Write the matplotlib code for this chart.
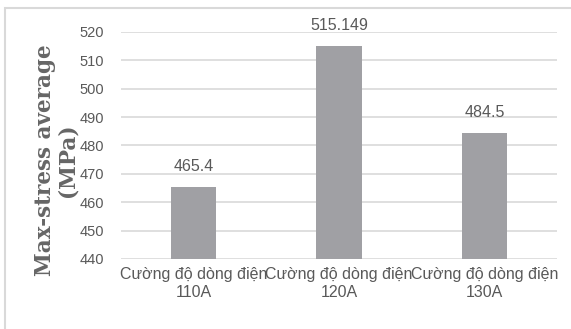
import matplotlib
matplotlib.use("Agg")
import matplotlib.pyplot as plt
from matplotlib.patches import Rectangle

categories = ["Cường độ dòng điện\n110A", "Cường độ dòng điện\n120A", "Cường độ dòng điện\n130A"]
values = [465.4, 515.149, 484.5]
value_labels = ["465.4", "515.149", "484.5"]
y_ticks = [440, 450, 460, 470, 480, 490, 500, 510, 520]

text_color = "#595959"
bar_color = "#a0a0a4"
grid_color = "#d9d9d9"
sans = ["Liberation Sans", "DejaVu Sans"]

fig = plt.figure(figsize=(5.71, 3.29), dpi=100)
fig.patch.set_facecolor("white")

# outer chart frame
fig.add_artist(Rectangle((5 / 571, -0.05), 1.1, 1 - 8 / 329 + 0.05,
                         transform=fig.transFigure, fill=False,
                         edgecolor="#d9d9d9", linewidth=1.5))

ax = fig.add_axes([121 / 571, 1 - 259 / 329, (557 - 121) / 571, (259 - 32) / 329])
x = list(range(len(categories)))
ax.bar(x, [v - y_ticks[0] for v in values], bottom=y_ticks[0], width=0.31,
       color=bar_color, zorder=3)

ax.set_xlim(-0.5, len(categories) - 0.5)
ax.set_ylim(y_ticks[0], y_ticks[-1])
ax.set_yticks(y_ticks)
ax.set_yticklabels([str(t) for t in y_ticks], family=sans, fontsize=10.5, color=text_color)
ax.set_xticks(x)
ax.set_xticklabels(categories, family=sans, fontsize=11.5, color=text_color, linespacing=1.2)
ax.tick_params(axis="y", length=0, pad=12)
ax.tick_params(axis="x", length=0, pad=6)
ax.grid(axis="y", color=grid_color, linewidth=1.2, zorder=0)
for s in ax.spines.values():
    s.set_visible(False)

for xi, v, lbl in zip(x, values, value_labels):
    ax.annotate(lbl, (xi, v), xytext=(0, 9), textcoords="offset points",
                ha="center", va="bottom", family=sans, fontsize=11.5, color=text_color)

fig.text(56 / 571, 1 - 160 / 329, "Max-stress average\n(MPa)", rotation=90,
         ha="center", va="center", family=["DejaVu Serif"],
         fontweight="bold", fontsize=15.5, color="#666666", linespacing=1.05,
         multialignment="center")

fig.savefig("out.png", dpi=100)
